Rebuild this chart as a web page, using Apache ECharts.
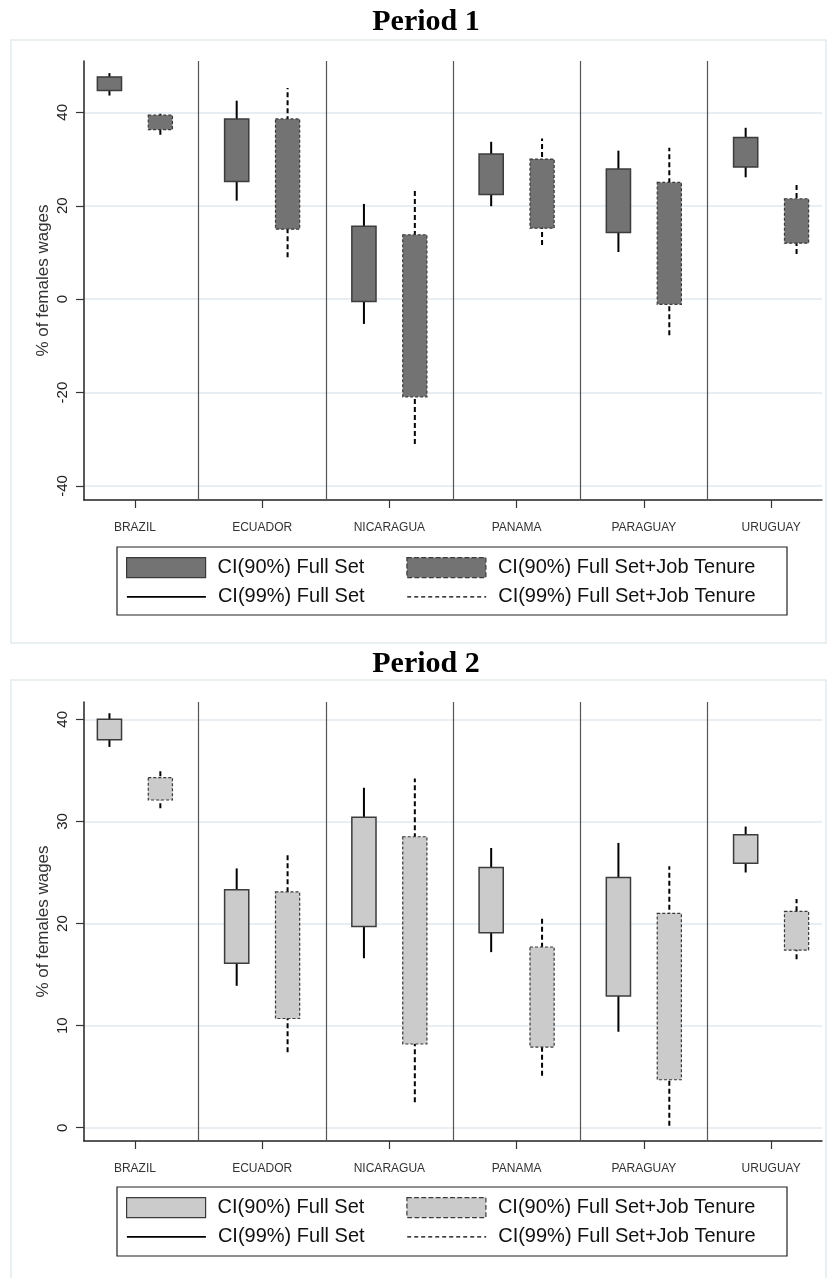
<!DOCTYPE html>
<html>
<head>
<meta charset="utf-8">
<script src="https://cdn.jsdelivr.net/npm/echarts@6/dist/echarts.min.js"></script>
<style>html,body{margin:0;padding:0;background:#fff;}#c{width:828px;height:1278px;}</style>
</head>
<body>
<div id="c"></div>
<script>
// ---------- data ----------
const countries = ['BRAZIL', 'ECUADOR', 'NICARAGUA', 'PANAMA', 'PARAGUAY', 'URUGUAY'];
const titles = ['Period 1', 'Period 2'];
const yAxisTitle = '% of females wages';
const seriesNames = ['CI(90%) Full Set', 'CI(90%) Full Set+Job Tenure', 'CI(99%) Full Set', 'CI(99%) Full Set+Job Tenure'];

// Period 1: [low, high]
const p1FullCI90 = [[44.7, 47.6], [25.2, 38.6], [-0.5, 15.6], [22.4, 31.1], [14.3, 27.9], [28.3, 34.6]];
const p1FullCI99 = [[43.6, 48.4], [21.1, 42.5], [-5.3, 20.4], [19.9, 33.7], [10.1, 31.8], [26.1, 36.7]];
const p1JobCI90  = [[36.3, 39.4], [15.0, 38.6], [-20.9, 13.8], [15.2, 30.0], [-1.1, 25.0], [12.0, 21.5]];
const p1JobCI99  = [[35.2, 40.3], [9.0, 45.2], [-31.0, 23.8], [11.6, 34.4], [-7.7, 32.4], [9.7, 24.5]];

// Period 2: [low, high]
const p2FullCI90 = [[38.0, 40.0], [16.1, 23.3], [19.7, 30.4], [19.1, 25.5], [12.9, 24.5], [25.9, 28.7]];
const p2FullCI99 = [[37.3, 40.6], [13.9, 25.4], [16.6, 33.3], [17.2, 27.4], [9.4, 27.9], [25.0, 29.5]];
const p2JobCI90  = [[32.1, 34.3], [10.7, 23.1], [8.2, 28.5], [7.9, 17.7], [4.7, 21.0], [17.4, 21.2]];
const p2JobCI99  = [[31.3, 35.0], [7.4, 26.7], [2.5, 34.2], [5.1, 20.5], [0.2, 25.6], [16.5, 22.4]];

const p1YTicks = [-40, -20, 0, 20, 40];
const p2YTicks = [0, 10, 20, 30, 40];

// ---------- layout / style ----------
const dodge = 0.2, boxW = 0.19;
const fills = ['#737373', '#cbcbcb'];
const separators = [1.5, 2.5, 3.5, 4.5, 5.5];
const catPos = countries.map((c, i) => i + 1);

function toData(arr) { return arr.map((d, i) => [i + 1, d[0], d[1]]); }

function boxSeries(name, g, arr, offset, dashed) {
  return {
    name: name, type: 'custom', xAxisIndex: g, yAxisIndex: g, z: 3,
    data: toData(arr),
    renderItem: function (params, api) {
      const x = api.value(0) + offset;
      const lo = api.coord([x, api.value(1)]);
      const hi = api.coord([x, api.value(2)]);
      const w = api.size([boxW, 0])[0];
      return {
        type: 'rect',
        shape: { x: lo[0] - w / 2, y: hi[1], width: w, height: lo[1] - hi[1] },
        style: {
          fill: fills[g], stroke: dashed ? '#3a3a3a' : '#3c3c3c',
          lineWidth: dashed ? 1.2 : 1.5, lineDash: dashed ? [3, 2] : null
        }
      };
    }
  };
}
function whiskerSeries(name, g, arr, offset, dashed) {
  return {
    name: name, type: 'custom', xAxisIndex: g, yAxisIndex: g, z: 2,
    data: toData(arr),
    renderItem: function (params, api) {
      const x = api.value(0) + offset;
      const lo = api.coord([x, api.value(1)]);
      const hi = api.coord([x, api.value(2)]);
      return {
        type: 'line',
        shape: { x1: lo[0], y1: lo[1], x2: hi[0], y2: hi[1] },
        style: { stroke: '#000', lineWidth: 2, lineDash: dashed ? [5, 3] : null }
      };
    }
  };
}

const grids = [
  { left: 84, right: 6, top: 61, bottom: 778 },
  { left: 84, right: 6, top: 702, bottom: 137 }
];
const yRanges = [[-43, 51], [-1.3, 41.7]];
const yTicks = [p1YTicks, p2YTicks];

const xAxes = [0, 1].map(g => ({
  type: 'value', gridIndex: g, min: 0.6, max: 6.4,
  axisLine: { show: true, onZero: false, lineStyle: { color: '#222', width: 1.5 } },
  axisTick: { show: true, customValues: catPos, length: 8, lineStyle: { color: '#333', width: 1.2 } },
  axisLabel: { customValues: catPos, margin: 22, fontSize: 12, color: '#333', fontFamily: 'Liberation Sans, Arial',
    formatter: v => countries[Math.round(v) - 1] },
  splitLine: { show: false }
}));
const yAxes = [0, 1].map(g => ({
  type: 'value', gridIndex: g, min: yRanges[g][0], max: yRanges[g][1],
  name: yAxisTitle, nameLocation: 'middle', nameGap: 32, nameMoveOverlap: false,
  nameTextStyle: { fontSize: 17, color: '#333', fontFamily: 'Liberation Sans, Arial' },
  axisLine: { show: true, onZero: false, lineStyle: { color: '#222', width: 1.5 } },
  axisTick: { show: true, customValues: yTicks[g], length: 8, lineStyle: { color: '#333', width: 1.2 } },
  axisLabel: { customValues: yTicks[g], rotate: 90, margin: 14, fontSize: 15, color: '#222', fontFamily: 'Liberation Sans, Arial' },
  splitLine: { show: true, lineStyle: { color: '#e8eef2', width: 2 } }
}));

const series = [];
[[p1FullCI90, p1FullCI99, p1JobCI90, p1JobCI99], [p2FullCI90, p2FullCI99, p2JobCI90, p2JobCI99]].forEach((sets, g) => {
  series.push(whiskerSeries(seriesNames[2], g, sets[1], -dodge, false));
  series.push(whiskerSeries(seriesNames[3], g, sets[3], dodge, true));
  const b = boxSeries(seriesNames[0], g, sets[0], -dodge, false);
  b.markLine = {
    silent: true, symbol: 'none', label: { show: false },
    lineStyle: { color: '#555', width: 1.2, type: 'solid' },
    data: separators.map(v => ({ xAxis: v }))
  };
  series.push(b);
  series.push(boxSeries(seriesNames[1], g, sets[2], dodge, true));
});

const legendOffsets = [0, 640];
const legends = [];
[0, 1].forEach(g => {
  const boxItem = (name, dashed) => ({
    name: name, icon: 'rect',
    itemStyle: { color: fills[g], borderColor: '#3a3a3a', borderWidth: 1.2, borderType: dashed ? 'dashed' : 'solid' }
  });
  const lineItem = (name, dashed) => ({
    name: name, icon: 'path://M0,0 M0,10 L80,10 M80,20',
    itemStyle: { color: 'rgba(0,0,0,0)', borderColor: '#000', borderWidth: dashed ? 1.2 : 1.8, borderType: dashed ? [4, 3] : 'solid' }
  });
  const common = {
    orient: 'horizontal', left: 126, padding: 0, itemWidth: 79, itemHeight: 20, itemGap: 42,
    textStyle: { fontSize: 20, color: '#111', fontFamily: 'Liberation Sans, Arial', padding: [0, 0, 0, 7] },
    selectedMode: false
  };
  legends.push(Object.assign({}, common, { top: 557 + legendOffsets[g], data: [boxItem(seriesNames[0], false), boxItem(seriesNames[1], true)] }));
  legends.push(Object.assign({}, common, { top: 586 + legendOffsets[g], data: [lineItem(seriesNames[2], false), lineItem(seriesNames[3], true)] }));
});

const option = {
  backgroundColor: '#fff',
  animation: false,
  title: titles.map((t, g) => ({
    text: t, left: 426, textAlign: 'center', top: g === 0 ? 7 : 649, padding: 0,
    textStyle: { fontSize: 30, fontWeight: 'bold', color: '#000', fontFamily: 'Liberation Serif, Times New Roman' }
  })),
  graphic: [
    { type: 'rect', silent: true, z: -1, shape: { x: 11, y: 40, width: 815, height: 603 }, style: { fill: 'none', stroke: '#e3eaee', lineWidth: 1.5 } },
    { type: 'rect', silent: true, z: -1, shape: { x: 11, y: 680, width: 815, height: 605 }, style: { fill: 'none', stroke: '#e3eaee', lineWidth: 1.5 } },
    { type: 'rect', silent: true, shape: { x: 117, y: 547, width: 670, height: 68 }, style: { fill: 'none', stroke: '#222', lineWidth: 1.2 } },
    { type: 'rect', silent: true, shape: { x: 117, y: 1187, width: 670, height: 69 }, style: { fill: 'none', stroke: '#222', lineWidth: 1.2 } }
  ],
  legend: legends,
  grid: grids,
  xAxis: xAxes,
  yAxis: yAxes,
  series: series
};

const chart = echarts.init(document.getElementById('c'), null, { renderer: 'canvas' });
chart.setOption(option);
</script>
</body>
</html>
